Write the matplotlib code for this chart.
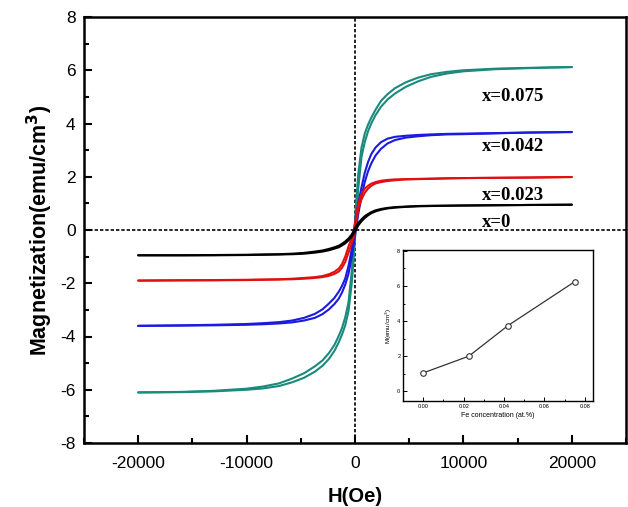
import matplotlib
matplotlib.use("Agg")
import matplotlib.pyplot as plt
from matplotlib.ticker import MultipleLocator

# ---------------- data ----------------
H = [-20000, -16000, -13000, -10000, -8500, -7000, -5800, -4700, -3700, -3000, -2400, -1900,
     -1500, -1200, -900, -600, -300, -100,
     100, 300, 600, 900, 1200, 1500, 1900, 2400, 3000, 3700, 4700, 5800, 7000, 8500,
     10000, 13000, 16000, 20000]

# x = 0.075
m075_desc = [-6.10, -6.08, -6.04, -5.96, -5.88, -5.76, -5.58, -5.38, -5.12, -4.90, -4.62, -4.32,
             -3.98, -3.68, -3.28, -2.72, -1.55, -0.35,
             1.00, 2.10, 3.10, 3.62, 3.95, 4.22, 4.52, 4.85, 5.10, 5.33, 5.55, 5.72, 5.85, 5.94,
             6.00, 6.06, 6.09, 6.12]
m075_asc = [-6.10, -6.09, -6.06, -6.00, -5.95, -5.86, -5.72, -5.55, -5.32, -5.10, -4.84, -4.54,
            -4.22, -3.93, -3.58, -3.05, -2.00, -0.95,
            0.35, 1.55, 2.75, 3.30, 3.70, 4.00, 4.32, 4.63, 4.90, 5.13, 5.38, 5.58, 5.75, 5.88,
            5.96, 6.04, 6.08, 6.12]
# x = 0.042
m042_desc = [-3.60, -3.58, -3.56, -3.53, -3.50, -3.46, -3.40, -3.30, -3.15, -2.98, -2.76, -2.55,
             -2.32, -2.10, -1.82, -1.35, -0.72, -0.10,
             0.55, 1.00, 1.60, 2.15, 2.55, 2.85, 3.10, 3.30, 3.43, 3.50, 3.54, 3.57, 3.59, 3.61,
             3.62, 3.64, 3.66, 3.68]
m042_asc = [-3.60, -3.59, -3.58, -3.56, -3.54, -3.51, -3.47, -3.40, -3.30, -3.16, -2.98, -2.78,
            -2.58, -2.35, -2.05, -1.65, -1.00, -0.50,
            0.05, 0.60, 1.25, 1.80, 2.20, 2.50, 2.80, 3.05, 3.25, 3.38, 3.47, 3.52, 3.56, 3.59,
            3.60, 3.63, 3.66, 3.68]
# x = 0.023
m023_desc = [-1.90, -1.89, -1.88, -1.87, -1.86, -1.85, -1.83, -1.80, -1.77, -1.73, -1.66, -1.57,
             -1.45, -1.28, -1.00, -0.62, -0.30, 0.00,
             0.50, 1.00, 1.35, 1.55, 1.66, 1.74, 1.80, 1.85, 1.88, 1.90, 1.91, 1.92, 1.93, 1.94,
             1.95, 1.96, 1.97, 1.99]
m023_asc = [-1.90, -1.89, -1.89, -1.88, -1.87, -1.86, -1.85, -1.83, -1.80, -1.77, -1.72, -1.65,
            -1.56, -1.42, -1.20, -0.85, -0.50, -0.25,
            0.20, 0.80, 1.15, 1.40, 1.55, 1.66, 1.75, 1.80, 1.84, 1.87, 1.90, 1.91, 1.92, 1.94,
            1.95, 1.96, 1.97, 1.99]
# x = 0
m000_desc = [-0.95, -0.95, -0.94, -0.93, -0.92, -0.91, -0.89, -0.86, -0.81, -0.77, -0.71, -0.65,
             -0.59, -0.52, -0.43, -0.32, -0.17, -0.02,
             0.14, 0.26, 0.40, 0.52, 0.60, 0.67, 0.74, 0.79, 0.83, 0.86, 0.88, 0.90, 0.91, 0.915,
             0.92, 0.93, 0.94, 0.95]
m000_asc = [-0.95, -0.95, -0.95, -0.94, -0.93, -0.92, -0.91, -0.89, -0.85, -0.81, -0.76, -0.70,
            -0.65, -0.58, -0.50, -0.39, -0.25, -0.12,
            0.02, 0.17, 0.33, 0.45, 0.55, 0.63, 0.70, 0.76, 0.81, 0.84, 0.87, 0.89, 0.90, 0.91,
            0.92, 0.93, 0.94, 0.95]

series_labels = ["x=0.075", "x=0.042", "x=0.023", "x=0"]
series_colors = ["#1b8a7c", "#1a1ae0", "#e01010", "#000000"]
series_desc = [m075_desc, m042_desc, m023_desc, m000_desc]
series_asc = [m075_asc, m042_asc, m023_asc, m000_asc]
label_pos = [(11700, 5.0), (11700, 3.12), (11700, 1.31), (11700, 0.30)]

# inset
fe_conc = [0.0, 0.0225, 0.042, 0.075]
ms_inset = [1.05, 2.0, 3.75, 6.25]

x_ticks = [-20000, -10000, 0, 10000, 20000]
y_ticks = [-8, -6, -4, -2, 0, 2, 4, 6, 8]
inset_xticks = [0.00, 0.02, 0.04, 0.06, 0.08]
inset_yticks = [0, 2, 4, 6, 8]

# ---------------- figure ----------------
plt.rcParams['font.family'] = ['Liberation Sans', 'DejaVu Sans']
fig = plt.figure(figsize=(6.28, 5.07), dpi=100)
ax = fig.add_axes([84/628, (507-443)/507, (626-84)/628, (443-17)/507])

for desc, asc, col in zip(series_desc, series_asc, series_colors):
    ax.plot(H, desc, color=col, lw=1.5, solid_capstyle='round', solid_joinstyle='round')
    ax.plot(H, asc, color=col, lw=1.5, solid_capstyle='round', solid_joinstyle='round')

ax.axhline(0, color='black', lw=1.2, ls=(0, (2.0, 1.2)), zorder=0)
ax.axvline(0, color='black', lw=1.2, ls=(0, (2.0, 1.2)), zorder=0)

for lab, (xp, yp) in zip(series_labels, label_pos):
    ax.text(xp, yp, lab, fontsize=13.5, fontweight='bold',
            family=['Liberation Serif', 'DejaVu Serif'], ha='left', va='center')

ax.set_xlim(-25000, 25000)
ax.set_ylim(-8, 8)
ax.set_xticks(x_ticks)
ax.set_yticks(y_ticks)
ax.set_xticklabels([str(t) for t in x_ticks])
ax.set_yticklabels([str(t) for t in y_ticks])
ax.xaxis.set_minor_locator(MultipleLocator(5000))
ax.yaxis.set_minor_locator(MultipleLocator(1))
ax.tick_params(which='both', direction='in', top=False, right=False, width=1.5,
               labelsize=12.5, colors='black')
ax.tick_params(axis='x', which='major', length=6, pad=9)
ax.tick_params(axis='y', which='major', length=6, pad=6)
ax.tick_params(which='minor', length=3.5)
for s in ax.spines.values():
    s.set_linewidth(1.8)
ax.set_xlabel("H(Oe)", fontsize=14.5, fontweight='bold', labelpad=12)
ax.set_ylabel("Magnetization(emu/cm$^\\mathbf{3}$)", fontsize=15.5, fontweight='bold', labelpad=4)

# ---------------- inset ----------------
ins = fig.add_axes([403/628, (507-401)/507, 190/628, 151/507])
ins.plot(fe_conc, ms_inset, color='#333333', lw=0.9, marker='o', ms=4,
         mfc='white', mec='#333333', mew=0.8)
ins.set_xlim(-0.01, 0.084)
ins.set_ylim(-0.55, 8.05)
ins.set_xticks(inset_xticks)
ins.set_yticks(inset_yticks)
ins.set_xticklabels([f"{t:.2f}" for t in inset_xticks])
ins.set_yticklabels([str(t) for t in inset_yticks])
ins.xaxis.set_minor_locator(MultipleLocator(0.01))
ins.yaxis.set_minor_locator(MultipleLocator(1))
ins.tick_params(which='both', direction='in', labelsize=4, width=0.7, pad=2)
ins.tick_params(which='major', length=3)
ins.tick_params(which='minor', length=1.5)
for s in ins.spines.values():
    s.set_linewidth(1.0)
ins.set_xlabel("Fe concentration (at.%)", fontsize=5, labelpad=2)
ins.set_ylabel("M(emu/cm$^3$)", fontsize=4.5, labelpad=2)

fig.savefig("out.png", dpi=100)
